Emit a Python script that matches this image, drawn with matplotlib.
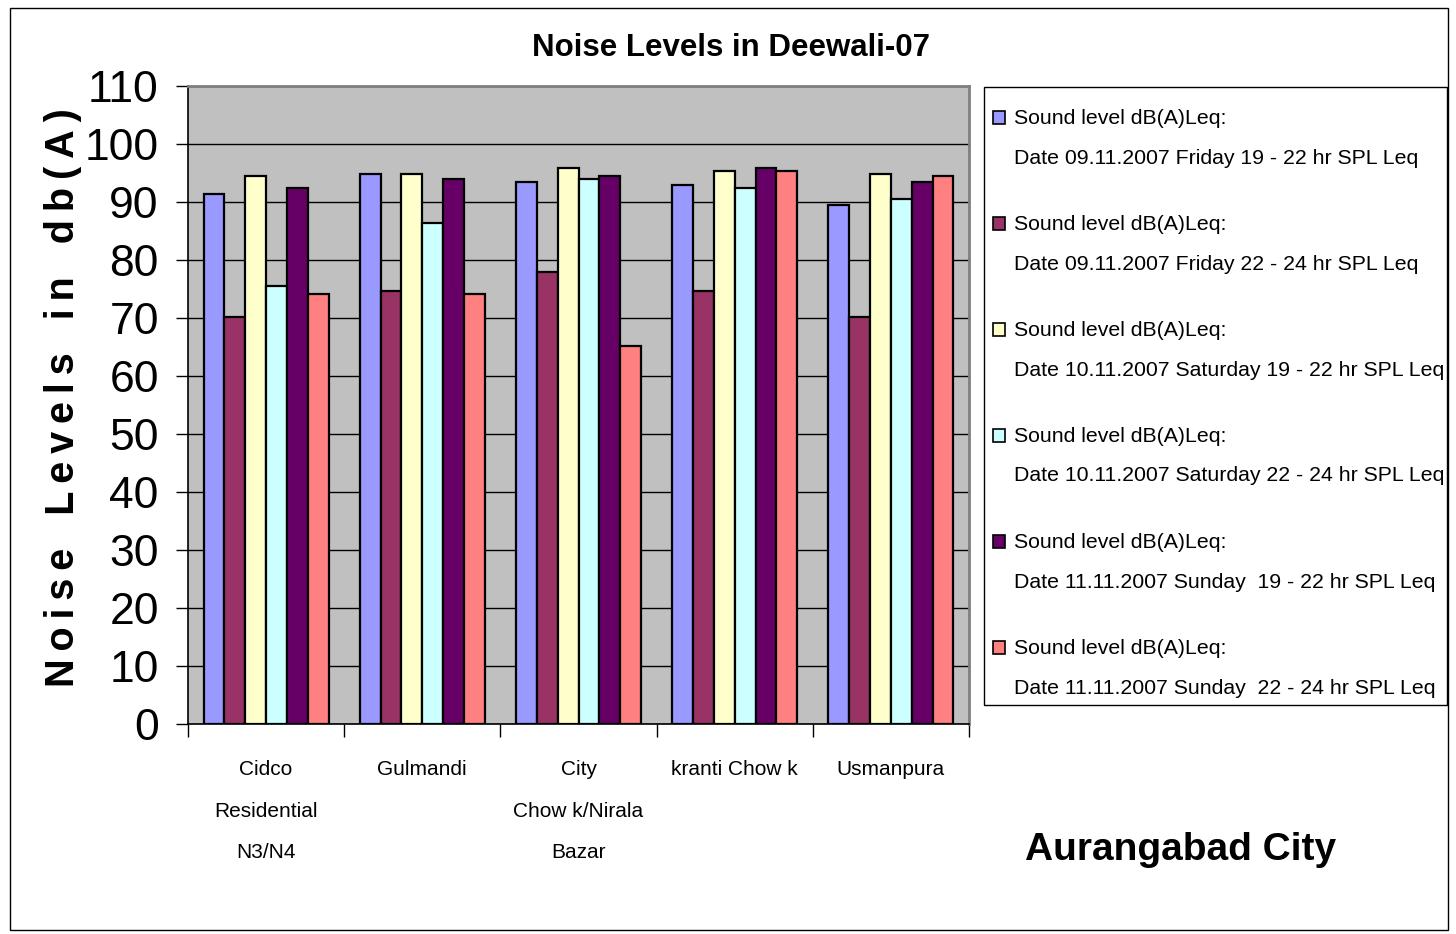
# Noise levels during Deewali 2007, Aurangabad city - grouped bar chart
import matplotlib
matplotlib.use("Agg")
import matplotlib.pyplot as plt
from matplotlib.patches import Rectangle
import numpy as np

plt.rcParams['font.family'] = ['Liberation Sans', 'DejaVu Sans']

# places (x categories)
places = ["Cidco\nResidential\nN3/N4", "Gulmandi", "City\nChow k/Nirala\nBazar",
          "kranti Chow k", "Usmanpura"]

# one list per measurement session, values in dB(A)
fri_19_22 = [91.4, 94.8, 93.4, 92.9, 89.4]
fri_22_24 = [70.1, 74.7, 78.0, 74.7, 70.1]
sat_19_22 = [94.4, 94.8, 95.9, 95.4, 94.8]
sat_22_24 = [75.6, 86.4, 93.9, 92.4, 90.5]
sun_19_22 = [92.4, 93.9, 94.4, 95.9, 93.4]
sun_22_24 = [74.2, 74.2, 65.2, 95.4, 94.4]

series = [fri_19_22, fri_22_24, sat_19_22, sat_22_24, sun_19_22, sun_22_24]
labels = ["Sound level dB(A)Leq:\nDate 09.11.2007 Friday 19 - 22 hr SPL Leq",
          "Sound level dB(A)Leq:\nDate 09.11.2007 Friday 22 - 24 hr SPL Leq",
          "Sound level dB(A)Leq:\nDate 10.11.2007 Saturday 19 - 22 hr SPL Leq",
          "Sound level dB(A)Leq:\nDate 10.11.2007 Saturday 22 - 24 hr SPL Leq",
          "Sound level dB(A)Leq:\nDate 11.11.2007 Sunday  19 - 22 hr SPL Leq",
          "Sound level dB(A)Leq:\nDate 11.11.2007 Sunday  22 - 24 hr SPL Leq"]
colors = ['#9999FF', '#993366', '#FFFFCC', '#CCFFFF', '#660066', '#FF8080']

W, H = 1456, 934
fig = plt.figure(figsize=(W / 100, H / 100), dpi=100)
ax = fig.add_axes([188 / W, 1 - 724 / H, (969 - 188) / W, (724 - 86) / H])
ax.set_facecolor('#C0C0C0')

x = np.arange(len(places))
w = 0.8 / len(series)
for j, vals in enumerate(series):
    ax.bar(x + (j - 2.5) * w, vals, width=w, color=colors[j],
           edgecolor='black', linewidth=1.6, zorder=3)

ax.set_xlim(-0.5, len(places) - 0.5)
ax.set_ylim(0, 110)
ax.set_yticks(range(0, 111, 10))
ax.tick_params(axis='y', labelsize=32, length=9, width=1, direction='out', pad=12)
ax.yaxis.grid(True, color='black', linewidth=1)
ax.set_axisbelow(True)

ax.set_xticks(x)
ax.set_xticklabels(places, fontsize=15, linespacing=2.5, va='top')
ax.tick_params(axis='x', length=0, pad=26)
ax.set_xticks(np.arange(-0.5, len(places)), minor=True)
ax.tick_params(axis='x', which='minor', length=9, width=1)

for s in ['top', 'right']:
    ax.spines[s].set_color('#808080')
    ax.spines[s].set_linewidth(2)
for s in ['left', 'bottom']:
    ax.spines[s].set_color('black')
    ax.spines[s].set_linewidth(1.2)

# letter-spaced axis title (thin spaces between letters)
ts = "\u2009"
ylab = "   ".join(ts.join(word) for word in ["Noise", "Levels", "in", "db(A)"])
ax.set_ylabel(ylab, fontsize=28.5, fontweight='bold')
ax.yaxis.set_label_coords(-0.136, 0.512)

fig.text(731 / W, 1 - 48 / H, "Noise Levels in Deewali-07", fontsize=22.5,
         fontweight='bold', ha='center', va='center')
fig.text(1181 / W, 1 - 850 / H, "Aurangabad City", fontsize=28,
         fontweight='bold', ha='center', va='center')

# outer frame
fig.patches.append(Rectangle((10 / W, 1 - 930 / H), 1438 / W, 922 / H,
                             transform=fig.transFigure, fill=False,
                             edgecolor='black', linewidth=1))

# legend box
fig.patches.append(Rectangle((984 / W, 1 - 705 / H), (1447 - 984) / W, (705 - 87) / H,
                             transform=fig.transFigure, facecolor='white',
                             edgecolor='black', linewidth=1))
for j, lab in enumerate(labels):
    y1 = 118 + 106 * j
    fig.patches.append(Rectangle((993 / W, 1 - (y1 + 6) / H), 12 / W, 13 / H,
                                 transform=fig.transFigure, facecolor=colors[j],
                                 edgecolor='black', linewidth=1.2))
    first, second = lab.split("\n")
    fig.text(1014 / W, 1 - y1 / H, first, fontsize=15.3, ha='left', va='center')
    fig.text(1014 / W, 1 - (y1 + 40) / H, second, fontsize=15.3, ha='left', va='center')

fig.savefig("out.png", dpi=100)
